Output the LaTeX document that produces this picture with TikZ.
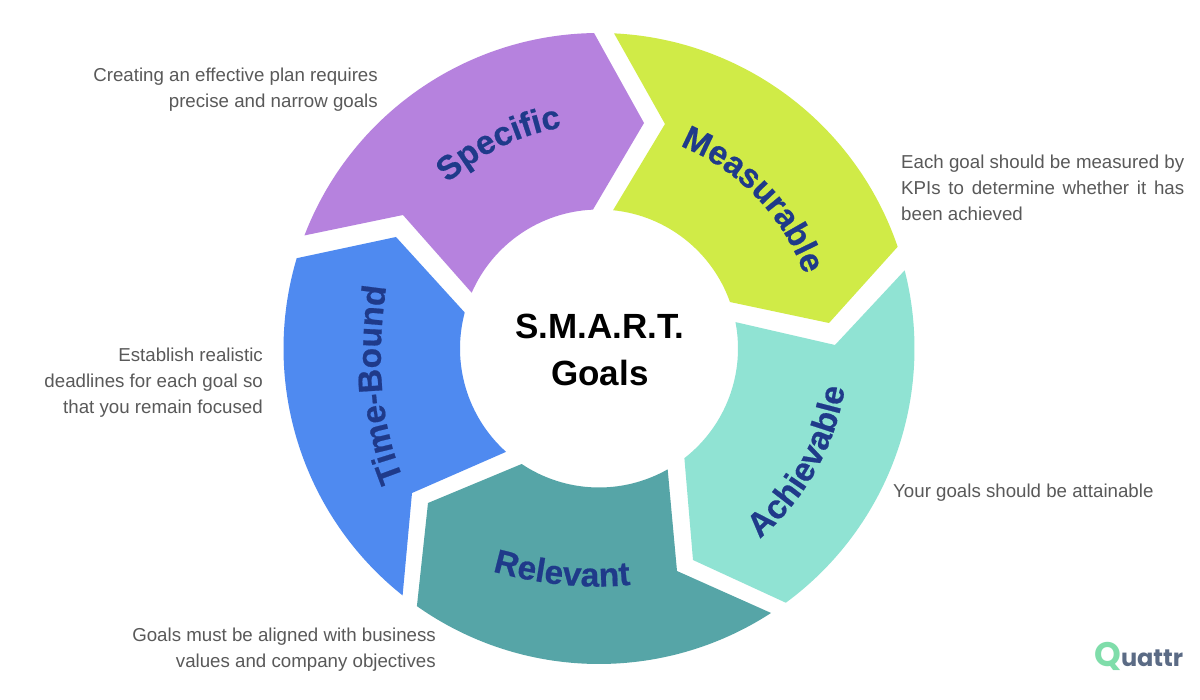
\documentclass[tikz,border=0pt]{standalone}
\usepackage{fontspec}
\setmainfont{Liberation Sans}
\newfontfamily\logofont{Poppins}
\newfontfamily\segfam[BoldFeatures={FakeBold=0.6}]{Liberation Sans}
\usetikzlibrary{calc,decorations.text}
\definecolor{cspec}{HTML}{B682DE}
\definecolor{cmeas}{HTML}{D0EB47}
\definecolor{cachi}{HTML}{90E3D3}
\definecolor{crele}{HTML}{56A5A7}
\definecolor{ctime}{HTML}{4F8AF0}
\definecolor{cnavy}{HTML}{1F3A8A}
\definecolor{cbody}{HTML}{595959}
\definecolor{clogoa}{HTML}{7FDDAA}
\definecolor{clogob}{HTML}{5B6B85}
\newcommand{\segfont}{\segfam\fontsize{33.5}{35}\selectfont\bfseries\color{cnavy}}
\tikzset{
  seglabel/.style={decorate,decoration={text along path,text align=center,text={|\segfont|#1}}},
  bodytext/.style={text=cbody,font=\fontsize{18.7}{26}\selectfont,inner sep=0pt},
  centertext/.style={text=black,font=\fontsize{35}{47}\selectfont\bfseries,inner sep=0pt,align=center},
}
\begin{document}
\begin{tikzpicture}[x=1pt,y=-1pt]
\useasboundingbox (0,0) rectangle (1200,700);
\fill[white] (0,0) rectangle (1200,700);
\coordinate (c) at (599,348.5);
\def\Ro{315.5}
\def\Ri{139}
% Specific
\fill[cspec] ($(c)+(201:\Ro)$) arc[start angle=201,end angle=269.1,radius=\Ro]
  -- (644,123) -- ($(c)+(267.5:\Ri)$) arc[start angle=267.5,end angle=203.65,radius=\Ri]
  -- (403,215) -- cycle;
% Measurable
\fill[cmeas] ($(c)+(-87.26:\Ro)$) arc[start angle=-87.26,end angle=-18.81,radius=\Ro]
  -- (829,323) -- ($(c)+(-19.54:\Ri)$) arc[start angle=-19.54,end angle=-84.19,radius=\Ri]
  -- (665,124) -- cycle;
% Achievable
\fill[cachi] ($(c)+(-14.34:\Ro)$) arc[start angle=-14.34,end angle=53.69,radius=\Ro]
  -- (693,560) -- ($(c)+(52.1:\Ri)$) arc[start angle=52.1,end angle=-10.95,radius=\Ri]
  -- (835,345) -- cycle;
% Relevant
\fill[crele] ($(c)+(56.96:\Ro)$) arc[start angle=56.96,end angle=125.25,radius=\Ro]
  -- (428,503) -- ($(c)+(123.8:\Ri)$) arc[start angle=123.8,end angle=60.4,radius=\Ri]
  -- (677,571) -- cycle;
% Time-Bound
\fill[ctime] ($(c)+(128.5:\Ro)$) arc[start angle=128.5,end angle=196.63,radius=\Ro]
  -- (396,237) -- ($(c)+(195:\Ri)$) arc[start angle=195,end angle=131.97,radius=\Ri]
  -- (412,493) -- cycle;
% Segment labels
\path[seglabel=Specific] ($(c)+(199:224)$) arc[start angle=199,end angle=289,radius=224];
\path[seglabel=Measurable] ($(c)+(-89:218)$) arc[start angle=-89,end angle=1,radius=218];
\path[seglabel=Achievable] ($(c)+(69.5:249)$) arc[start angle=69.5,end angle=-10.5,radius=249];
\path[seglabel=Relevant] (472,565) .. controls (532,585) and (592,592) .. (652,582);
\path[seglabel=Time-Bound] (418,509) .. controls (373,429) and (375,339) .. (392,254);
% Centre
\node[centertext] (title) at (600,349.5) {S.M.A.R.T.\\Goals};
% Descriptions
\node[bodytext,anchor=east,align=right] (dspec) at (378,90) {Creating an effective plan requires\\precise and narrow goals};
\node[bodytext,anchor=west,align=left] (dmeas) at (901,188) {\makebox[283pt][s]{Each goal should be measured by}\\\makebox[283pt][s]{KPIs to determine whether it has}\\been achieved};
\node[bodytext,anchor=west] (dachi) at (893,493) {Your goals should be attainable};
\node[bodytext,anchor=east,align=right] (drele) at (436,650) {Goals must be aligned with business\\values and company objectives};
\node[bodytext,anchor=east,align=right] (dtime) at (263,383) {Establish realistic\\deadlines for each goal so\\that you remain focused};
% Logo
\node[inner sep=0pt,anchor=base west,font=\logofont\bfseries] (logo) at (1094,666) {\textcolor{clogoa}{\fontsize{34}{34}\selectfont Q}\textcolor{clogob}{\fontsize{24}{24}\selectfont uattr}};
\end{tikzpicture}
\end{document}
